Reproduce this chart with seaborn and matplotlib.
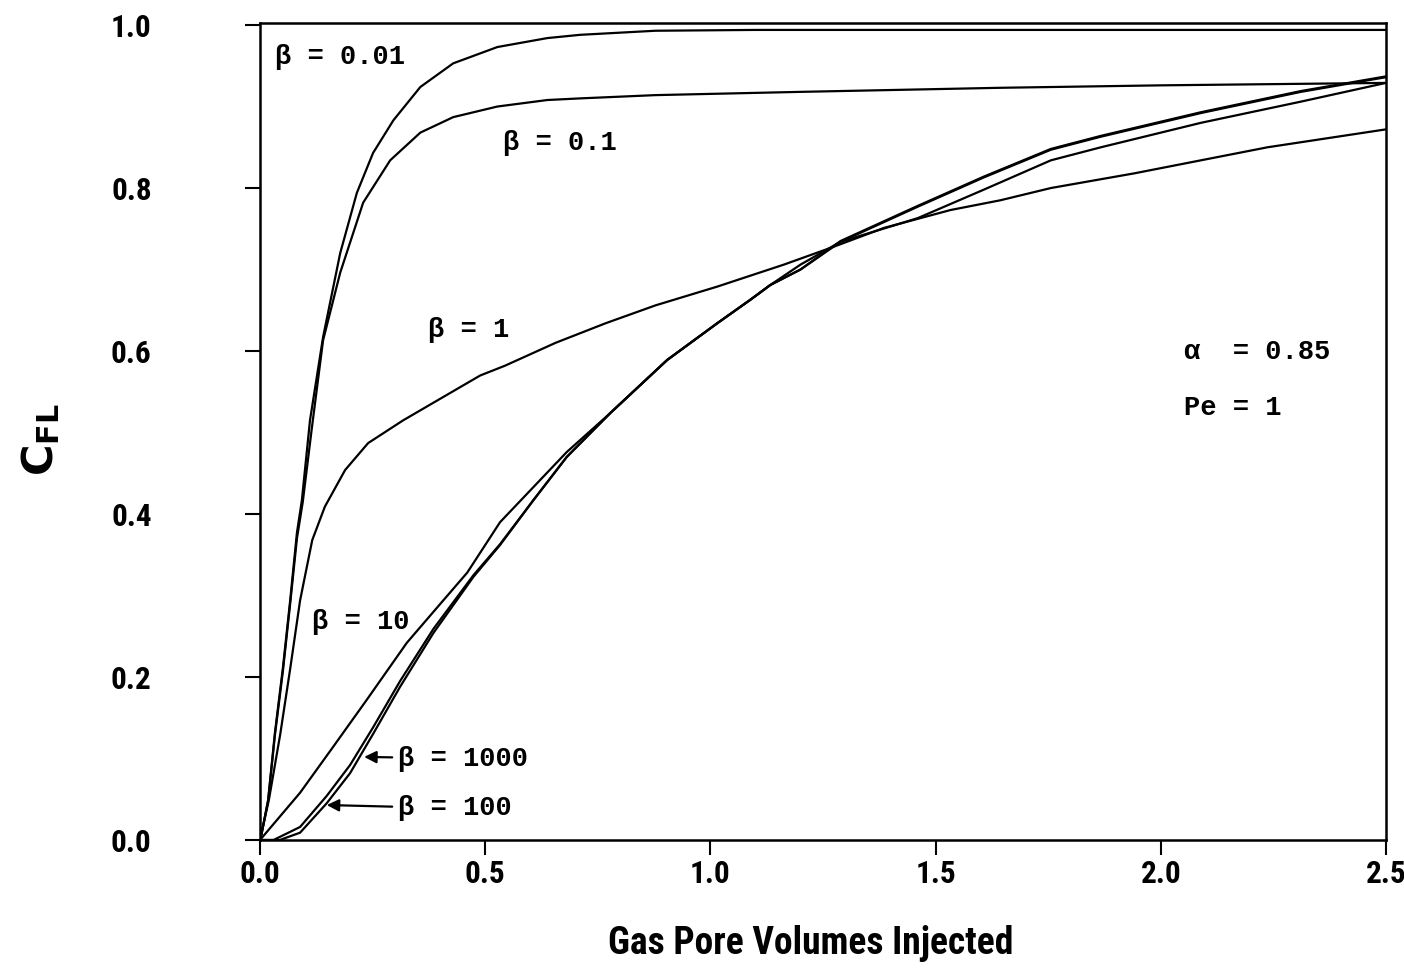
import matplotlib
matplotlib.use("Agg")
import matplotlib.pyplot as plt
import seaborn as sns

# ---- data ----
x_b001 = [0, 0.004, 0.018, 0.033, 0.051, 0.067, 0.082, 0.093, 0.111, 0.140, 0.178, 0.215, 0.251, 0.296,
          0.356, 0.429, 0.527, 0.638, 0.711, 0.878, 1.1, 1.5, 2.0, 2.5]
y_b001 = [0, 0.009, 0.049, 0.131, 0.212, 0.294, 0.377, 0.417, 0.515, 0.617, 0.720, 0.794, 0.843, 0.883,
          0.924, 0.953, 0.973, 0.984, 0.988, 0.993, 0.994, 0.994, 0.994, 0.994]

x_b01 = [0, 0.004, 0.018, 0.033, 0.051, 0.067, 0.082, 0.095, 0.115, 0.140, 0.178, 0.229, 0.289, 0.356,
         0.429, 0.527, 0.638, 0.711, 0.878, 1.2, 1.644, 2.0, 2.5]
y_b01 = [0, 0.009, 0.048, 0.128, 0.208, 0.290, 0.370, 0.415, 0.505, 0.613, 0.696, 0.782, 0.834, 0.868,
         0.887, 0.900, 0.908, 0.910, 0.914, 0.918, 0.923, 0.926, 0.929]

x_b1 = [0, 0.02, 0.045, 0.067, 0.089, 0.116, 0.144, 0.189, 0.240, 0.318, 0.433, 0.489, 0.544, 0.656,
        0.767, 0.878, 1.015, 1.163, 1.274, 1.385, 1.533, 1.644, 1.756, 1.941, 2.237, 2.5]
y_b1 = [0, 0.05, 0.13, 0.21, 0.294, 0.368, 0.409, 0.454, 0.487, 0.515, 0.552, 0.570, 0.582, 0.610,
        0.634, 0.656, 0.679, 0.706, 0.728, 0.751, 0.773, 0.785, 0.800, 0.818, 0.850, 0.872]

x_b10 = [0, 0.089, 0.162, 0.237, 0.326, 0.396, 0.46, 0.533, 0.607, 0.681, 0.778, 0.904, 1.015, 1.089,
         1.133, 1.2, 1.289, 1.46, 1.607, 1.756, 1.867, 2.089, 2.311, 2.5]
y_b10 = [0, 0.058, 0.114, 0.172, 0.242, 0.287, 0.328, 0.390, 0.433, 0.476, 0.524, 0.589, 0.634, 0.663,
         0.681, 0.706, 0.734, 0.763, 0.798, 0.834, 0.850, 0.880, 0.906, 0.929]

x_b100 = [0, 0.044, 0.089, 0.148, 0.2, 0.252, 0.311, 0.385, 0.474, 0.533, 0.607, 0.681, 0.778, 0.904,
          1.015, 1.089, 1.133, 1.2, 1.289, 1.46, 1.607, 1.756, 1.867, 2.089, 2.311, 2.5]
y_b100 = [0, 0, 0.009, 0.045, 0.082, 0.131, 0.188, 0.254, 0.323, 0.362, 0.417, 0.470, 0.524, 0.589,
          0.634, 0.663, 0.681, 0.700, 0.734, 0.777, 0.813, 0.847, 0.863, 0.892, 0.918, 0.936]

x_b1000 = [0, 0.03, 0.089, 0.148, 0.2, 0.252, 0.311, 0.385, 0.474, 0.533, 0.607, 0.681, 0.778, 0.904,
           1.015, 1.089, 1.133, 1.2, 1.289, 1.46, 1.607, 1.756, 1.867, 2.089, 2.311, 2.5]
y_b1000 = [0, 0, 0.016, 0.054, 0.092, 0.139, 0.195, 0.259, 0.325, 0.363, 0.417, 0.470, 0.524, 0.589,
           0.634, 0.663, 0.681, 0.700, 0.735, 0.778, 0.814, 0.848, 0.864, 0.893, 0.919, 0.937]

x_ticks = [0.0, 0.5, 1.0, 1.5, 2.0, 2.5]
x_ticklabels = ["0.0", "0.5", "1.0", "1.5", "2.0", "2.5"]
y_ticks = [0.0, 0.2, 0.4, 0.6, 0.8, 1.0]
y_ticklabels = ["0.0", "0.2", "0.4", "0.6", "0.8", "1.0"]

curves = [(x_b001, y_b001), (x_b01, y_b01), (x_b1, y_b1), (x_b10, y_b10),
          (x_b100, y_b100), (x_b1000, y_b1000)]

# ---- style ----
sns.set_theme(style="white")
plt.rcParams["font.family"] = ["DejaVu Sans"]
plt.rcParams["mathtext.fontset"] = "dejavusans"
plt.rcParams["text.color"] = "black"
plt.rcParams["axes.labelcolor"] = "black"
plt.rcParams["xtick.color"] = "black"
plt.rcParams["ytick.color"] = "black"

narrow = ["Roboto Condensed", "DejaVu Sans Condensed", "Liberation Sans Narrow",
          "Noto Sans Condensed", "Roboto", "DejaVu Sans"]
mono = ["Liberation Mono", "DejaVu Sans Mono"]

fig = plt.figure(figsize=(14.04, 9.72), dpi=100)
ax = fig.add_axes([260 / 1404, 1 - 840 / 972, 1126 / 1404, 817 / 972])

for xs, ys in curves:
    sns.lineplot(x=xs, y=ys, ax=ax, color="black", linewidth=1.6, estimator=None, sort=False)

ax.set_xlim(0, 2.5)
ax.set_ylim(0, 1.0025)

for s in ax.spines.values():
    s.set_visible(True)
    s.set_color("black")
    s.set_linewidth(1.8)

tick_kw = dict(fontfamily=narrow, fontweight="bold", fontsize=22.5, fontstretch="condensed",
               color="black")
ax.set_xticks(x_ticks)
ax.set_xticklabels(x_ticklabels, **tick_kw)
ax.set_yticks(y_ticks)
ax.set_yticklabels(y_ticklabels, **tick_kw)
ax.tick_params(axis="x", direction="out", length=11, width=1.5, pad=3, bottom=True, color="black")
ax.tick_params(axis="y", direction="out", length=11, width=1.5, pad=67, left=True, color="black")
ax.grid(False)

ax.set_xlabel("Gas Pore Volumes Injected", fontfamily=narrow, fontweight="bold", fontsize=27,
              fontstretch="condensed", color="black")
ax.xaxis.set_label_coords(0.489, -0.104)
ax.set_ylabel(r"$\mathbf{C}_{\mathbf{FL}}$", fontsize=31, color="black")
ax.yaxis.set_label_coords(-0.176, 0.49)

tkw = dict(fontfamily=mono, fontweight="bold", fontsize=19.5, color="black", va="center", ha="left")
ax.text(0.033, 0.961, "β = 0.01", **tkw)
ax.text(0.540, 0.855, "β = 0.1", **tkw)
ax.text(0.373, 0.626, "β = 1", **tkw)
ax.text(0.116, 0.267, "β = 10", **tkw)
ax.text(2.051, 0.599, "α  = 0.85", **tkw)
ax.text(2.051, 0.530, "Pe = 1", **tkw)

ax.annotate("β = 1000", xy=(0.225, 0.102), xytext=(0.307, 0.100),
            arrowprops=dict(arrowstyle="-|>", color="black", lw=1.6, mutation_scale=18), **tkw)
ax.annotate("β = 100", xy=(0.142, 0.043), xytext=(0.307, 0.039),
            arrowprops=dict(arrowstyle="-|>", color="black", lw=1.6, mutation_scale=18), **tkw)

fig.savefig("out.png", dpi=100)
